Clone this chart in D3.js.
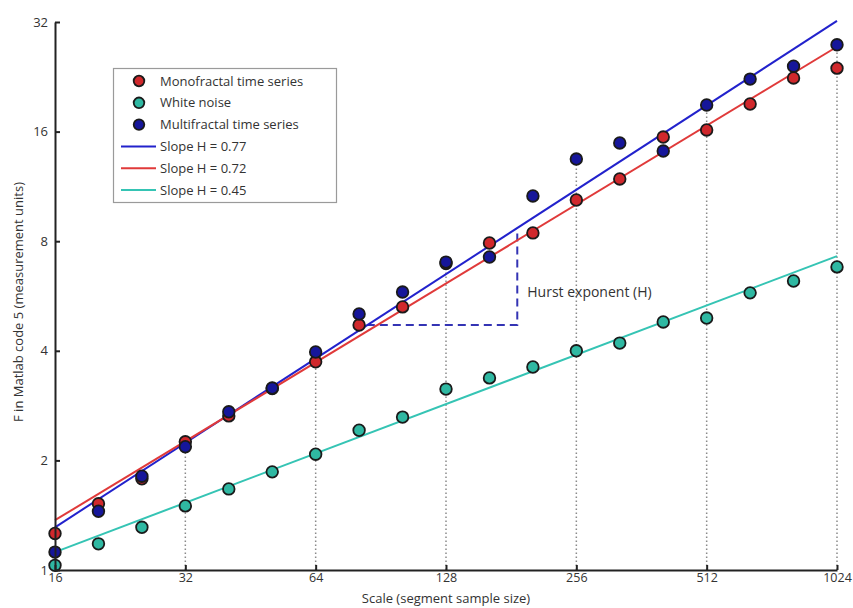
<!DOCTYPE html>
<html><head><meta charset="utf-8">
<script src="https://cdn.jsdelivr.net/npm/d3@7"></script>
<style>
html,body{margin:0;padding:0;background:#fff;}
text{font-family:"Open Sans","Noto Sans",sans-serif;fill:#333;}
</style></head>
<body><svg id="chart" width="853" height="608"></svg>
<script>
// ---- data ----
const scales = [16,20.16,25.4,32,40.32,50.8,64,80.63,101.6,128,161.3,203.2,256,322.5,406.4,512,645.1,812.7,1024];
const monofractal = [1.26,1.52,1.78,2.25,2.65,3.15,3.73,4.71,5.28,6.95,7.91,8.43,10.38,11.86,15.46,16.17,19.05,22.46,23.9];
const whiteNoise = [1.03,1.18,1.31,1.50,1.67,1.86,2.08,2.42,2.63,3.14,3.37,3.61,4.00,4.20,4.80,4.92,5.77,6.22,6.80];
const multifractal = [1.12,1.45,1.81,2.18,2.72,3.16,3.97,5.05,5.80,7.01,7.24,10.65,13.45,14.89,14.15,18.93,22.3,24.2,27.7];
const fitSlopes = [0.77,0.72,0.45];        // blue, red, teal
const fitAtStart = [1.31,1.37,1.12];       // F value at scale 16
const xTicks = [16,32,64,128,256,512,1024];
const yTicks = [1,2,4,8,16,32];
const gridScales = [32,64,128,256,512,1024];
const hurstX = [84,187];
const hurstY = [4.71,8.5];
const legendLabels = ["Monofractal time series","White noise","Multifractal time series","Slope H = 0.77","Slope H = 0.72","Slope H = 0.45"];

const pointColors = {mono:"#d0282c", white:"#2fb8a2", multi:"#16169a"};
const lineColors = ["#2222cc","#e03a3a","#35c4b4"];

const svg = d3.select("#chart");
const x = d3.scaleLog().base(2).domain([16,1024]).range([55,837]);
const y = d3.scaleLog().base(2).domain([1,32]).range([570,22]);

// dotted vertical guides
const allSeries = [monofractal, whiteNoise, multifractal];
svg.append("g").selectAll("line").data(gridScales).join("line")
  .attr("x1",d=>x(d)).attr("x2",d=>x(d))
  .attr("y1",y(1))
  .attr("y2",d=>{const i=scales.findIndex(s=>Math.abs(s-d)<0.5);return y(d3.max(allSeries,a=>a[i]));})
  .attr("stroke","#8a8a8a").attr("stroke-width",1.5).attr("stroke-dasharray","1.5,2.5");

// hurst triangle
svg.append("path")
  .attr("d",`M${x(hurstX[0])},${y(hurstY[0])}H${x(hurstX[1])}V${y(hurstY[1])}`)
  .attr("fill","none").attr("stroke","#3434b4").attr("stroke-width",2).attr("stroke-dasharray","8,5");
svg.append("text").attr("x",x(hurstX[1])+10).attr("y",y(5.8)).attr("dy","0.35em")
  .attr("font-size",14).text("Hurst exponent (H)");

// fit lines
const fitLines = fitSlopes.map((h,i)=>[16,1024].map(s=>[s,fitAtStart[i]*Math.pow(s/16,h)]));
const line = d3.line().x(d=>x(d[0])).y(d=>y(d[1]));
svg.append("g").selectAll("path").data(fitLines).join("path")
  .attr("d",line).attr("fill","none").attr("stroke",(d,i)=>lineColors[i]).attr("stroke-width",2);

// points
function drawPts(vals,col){
  svg.append("g").selectAll("circle").data(vals).join("circle")
    .attr("cx",(d,i)=>x(scales[i])).attr("cy",d=>y(d)).attr("r",5.8)
    .attr("fill",col).attr("stroke","#1a1a1a").attr("stroke-width",1.8);
}
drawPts(monofractal,pointColors.mono);
drawPts(whiteNoise,pointColors.white);
drawPts(multifractal,pointColors.multi);

// axes
const xAxis = d3.axisBottom(x).tickValues(xTicks).tickFormat(d3.format("d")).tickSizeInner(-5).tickSizeOuter(0).tickPadding(3);
const gx = svg.append("g").attr("transform",`translate(0,${y(1)})`).call(xAxis);
gx.select(".domain").attr("stroke","#222").attr("stroke-width",2);
gx.selectAll(".tick line").attr("stroke","#222").attr("stroke-width",2);
gx.selectAll(".tick text").attr("font-size",12.5).attr("fill","#333").attr("font-family","Open Sans");

const yAxis = d3.axisLeft(y).tickValues(yTicks).tickFormat(d3.format("d")).tickSizeInner(-5).tickSizeOuter(0).tickPadding(7);
const gy = svg.append("g").attr("transform",`translate(${x(16)},0)`).call(yAxis);
gy.select(".domain").attr("stroke","#222").attr("stroke-width",2);
gy.selectAll(".tick line").attr("stroke","#222").attr("stroke-width",2);
gy.selectAll(".tick text").attr("font-size",13).attr("fill","#333").attr("font-family","Open Sans");

// axis titles
svg.append("text").attr("x",(x.range()[0]+x.range()[1])/2).attr("y",603).attr("text-anchor","middle")
  .attr("font-size",13).text("Scale (segment sample size)");
svg.append("text").attr("transform",`translate(18,${(y.range()[0]+y.range()[1])/2+6}) rotate(-90)`)
  .attr("text-anchor","middle").attr("dy","0.35em").attr("font-size",13).text("F in Matlab code 5 (measurement units)");

// legend
const lg = svg.append("g");
lg.append("rect").attr("x",113.5).attr("y",68.5).attr("width",223).attr("height",134)
  .attr("fill","#fff").attr("stroke","#9a9a9a").attr("stroke-width",1.2);
const rowY = i=>81+i*21.8;
const legendPts = [pointColors.mono,pointColors.white,pointColors.multi];
legendPts.forEach((c,i)=>{
  lg.append("circle").attr("cx",139).attr("cy",rowY(i)).attr("r",5.3).attr("fill",c).attr("stroke","#1a1a1a").attr("stroke-width",1.8);
});
lineColors.forEach((c,i)=>{
  lg.append("line").attr("x1",121).attr("x2",156).attr("y1",rowY(i+3)).attr("y2",rowY(i+3)).attr("stroke",c).attr("stroke-width",2);
});
legendLabels.forEach((t,i)=>{
  lg.append("text").attr("x",160).attr("y",rowY(i)).attr("dy","0.35em").attr("font-size",13).text(t);
});
</script></body></html>
